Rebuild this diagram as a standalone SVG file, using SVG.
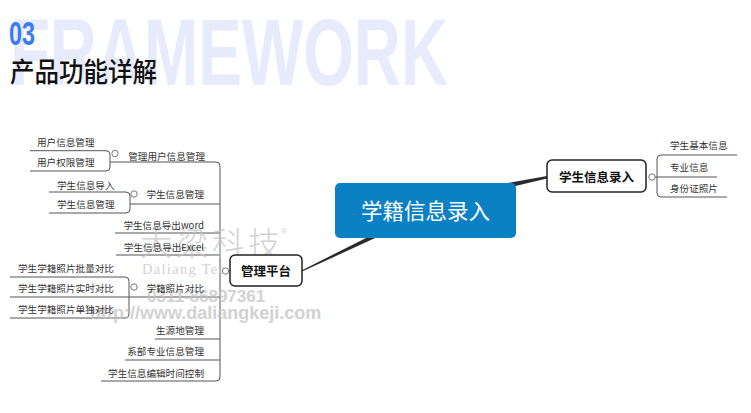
<svg xmlns="http://www.w3.org/2000/svg" width="751" height="413" viewBox="0 0 751 413">
<style>
.t{font-family:"Noto Sans CJK SC","Noto Sans",sans-serif;font-size:9.6px;fill:#333}
.e{text-anchor:end}
.ln{fill:none;stroke:#555;stroke-width:1}
.cc{fill:#fff;stroke:#777;stroke-width:1}
.box{fill:#fff;stroke:#222;stroke-width:1.5}
.nb{font-family:"Noto Sans CJK SC","Noto Sans",sans-serif;font-weight:bold;font-size:12.5px;fill:#111;text-anchor:middle}
.wm{fill:#c4c4c4;opacity:0.75}
</style>
<rect width="751" height="413" fill="#fff"/>
<g id="title">
<text x="10" y="85" font-family="Liberation Sans,Arial,sans-serif" font-weight="bold" font-size="94" fill="#e7ebfb" textLength="438" lengthAdjust="spacingAndGlyphs">FRAMEWORK</text>
<text x="9" y="45" font-family="Liberation Sans,Arial,sans-serif" font-weight="bold" font-size="34" fill="#3b7cf6" textLength="26" lengthAdjust="spacingAndGlyphs">03</text>
<text x="10" y="82" font-family="Noto Sans CJK SC,sans-serif" font-weight="500" font-size="27" fill="#111" textLength="147" lengthAdjust="spacingAndGlyphs">产品功能详解</text>
</g>
<g id="connectors">
<path d="M386,228 L386,233 L302,271.6 L302,270.2 Z" fill="#2a2a2a"/>
<path d="M505,183.5 L505,188.5 L547,178.6 L547,176 Z" fill="#2a2a2a"/>
<path class="ln" d="M737,155 L661,155 Q657,155 657,159 L657,193 Q657,197 661,197 L727,197"/>
<path class="ln" d="M655,177 L717,177"/>
<path class="ln" d="M101,381 L216,381 Q220,381 220,377 L220,166 Q220,162 216,162 L110,162"/>
<path class="ln" d="M130,204 L220,204 M115,233 L220,233 M116,255 L220,255 M10,297 L220,297 M155,339 L220,339 M125,360 L220,360"/>
<path class="ln" d="M30,150.7 L106,150.7 Q110,150.7 110,154.7 L110,167 Q110,171 106,171 L30,171"/>
<path class="ln" d="M49,192 L126,192 Q130,192 130,196 L130,209 Q130,213 126,213 L49,213"/>
<path class="ln" d="M10,277 L125,277 Q129,277 129,281 L129,314 Q129,318 125,318 L10,318"/>
<circle class="cc" cx="652" cy="177" r="3.2"/>
<circle class="cc" cx="115" cy="153.5" r="3.2"/>
<circle class="cc" cx="134" cy="194" r="3.2"/>
<circle class="cc" cx="134" cy="287" r="3.2"/>
<circle class="cc" cx="225.5" cy="271" r="3.2"/>
</g>
<g id="watermark">
<text class="wm" x="140" y="255" font-family="Noto Sans CJK SC,sans-serif" font-weight="300" font-size="32" letter-spacing="4">大梁科技</text>
<text class="wm" x="281" y="234" font-family="Liberation Sans,sans-serif" font-size="8">®</text>
<text class="wm" x="142" y="274" font-family="Liberation Serif,serif" font-size="14.5" letter-spacing="1.3">Daliang Tec</text>
<text class="wm" x="147" y="302" font-family="Liberation Sans,sans-serif" font-weight="bold" font-size="17">0311-86897361</text>
<text class="wm" x="90" y="319" font-family="Liberation Sans,sans-serif" font-weight="bold" font-size="18">http://www.daliangkeji.com</text>
</g>
<g id="n-center">
<rect x="335" y="183" width="181" height="55" rx="5" fill="#0b80c3"/>
<text x="425.5" y="218.5" font-family="Noto Sans CJK SC,sans-serif" font-size="21.5" fill="#fff" text-anchor="middle">学籍信息录入</text>
</g>
<g id="n-right">
<rect class="box" x="547" y="160" width="99" height="32" rx="5"/>
<text class="nb" x="596.5" y="181.5">学生信息录入</text>
</g>
<g id="n-left">
<rect class="box" x="230" y="255" width="72" height="31" rx="5"/>
<text class="nb" x="266" y="275.5">管理平台</text>
</g>
<g id="r-children">
<text class="t" x="670" y="148.5">学生基本信息</text>
<text class="t" x="670" y="170.5">专业信息</text>
<text class="t" x="670" y="191.5">身份证照片</text>
</g>
<g id="l-children">
<text class="t" x="37" y="145.5">用户信息管理</text>
<text class="t" x="37" y="165.5">用户权限管理</text>
<text class="t e" x="205" y="160">管理用户信息管理</text>
<text class="t" x="57" y="188.5">学生信息导入</text>
<text class="t" x="57" y="207.5">学生信息管理</text>
<text class="t e" x="204" y="197.5">学生信息管理</text>
<text class="t e" x="204" y="228.5">学生信息导出word</text>
<text class="t e" x="204" y="250.5">学生信息导出Excel</text>
<text class="t" x="18" y="271.5">学生学籍照片批量对比</text>
<text class="t" x="18" y="291.5">学生学籍照片实时对比</text>
<text class="t" x="18" y="312.5">学生学籍照片单独对比</text>
<text class="t e" x="204" y="291.5">学籍照片对比</text>
<text class="t e" x="204" y="333.5">生源地管理</text>
<text class="t e" x="204" y="354.5">系部专业信息管理</text>
<text class="t e" x="204" y="376.5">学生信息编辑时间控制</text>
</g>
</svg>
